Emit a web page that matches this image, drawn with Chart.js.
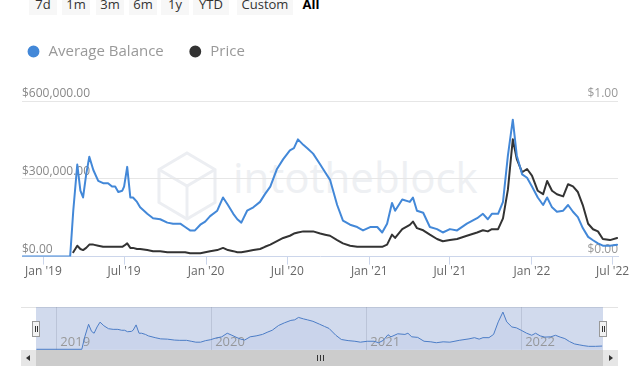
<!DOCTYPE html>
<html>
<head>
<meta charset="utf-8">
<script src="https://cdn.jsdelivr.net/npm/chart.js@4.4.1/dist/chart.umd.min.js"></script>
<style>
  body { margin: 0; width: 640px; height: 367px; overflow: hidden; background: #fff; position: relative; font-family: "Open Sans", sans-serif; }
  .btn { position: absolute; top: -8px; height: 23px; line-height: 24px; text-align: center; font-size: 13px; color: #333; background: #f7f7f7; }
  .btn.on { background: none; font-weight: bold; color: #000; }
  #mark { position: absolute; left: 0; top: 0; }
  #markText { position: absolute; left: 233px; top: 148px; font-size: 42px; color: #eef0f3; letter-spacing: 0px; }
  #main { position: absolute; left: 0; top: 20px; }
  #navBox { position: absolute; left: 21px; top: 307px; width: 597px; height: 43px; border-top: 1px solid #e3e3e3; box-sizing: border-box; }
  #nav { position: absolute; left: 21px; top: 307px; }
  .handle { position: absolute; top: 321px; width: 6px; height: 14px; background: #f2f2f2; border: 1px solid #999; }
  .handle i { position: absolute; top: 4px; width: 1px; height: 6px; background: #333; }
  #track { position: absolute; left: 21px; top: 350px; width: 597px; height: 16px; background: #f2f2f2; }
  #thumb { position: absolute; left: 36px; top: 350px; width: 567px; height: 16px; background: #cccccc; }
  .arrow { position: absolute; top: 350px; width: 15px; height: 16px; background: #e6e6e6; }
  .grip { position: absolute; top: 355px; width: 1px; height: 6px; background: #333; }
</style>
</head>
<body>
<div class="btn" style="left:29px;width:28px">7d</div>
<div class="btn" style="left:62px;width:28px">1m</div>
<div class="btn" style="left:96px;width:28px">3m</div>
<div class="btn" style="left:129px;width:28px">6m</div>
<div class="btn" style="left:161px;width:28px">1y</div>
<div class="btn" style="left:193px;width:36px">YTD</div>
<div class="btn" style="left:237px;width:56px">Custom</div>
<div class="btn on" style="left:300px;width:22px">All</div>

<svg id="mark" width="640" height="367">
  <g fill="none" stroke="#eceef2" stroke-width="3">
    <polygon points="187,153 215,169.5 215,202.5 187,219 159,202.5 159,169.5"/>
    <polyline points="159,169.5 187,186 215,169.5"/>
    <line x1="187" y1="186" x2="187" y2="219"/>
  </g>
</svg>
<div id="markText">intotheblock</div>

<canvas id="main" width="640" height="259"></canvas>

<div id="navBox"></div>
<canvas id="nav" width="597" height="43"></canvas>
<div class="handle" style="left:32px"><i style="left:2px"></i><i style="left:4px"></i></div>
<div class="handle" style="left:599px"><i style="left:2px"></i><i style="left:4px"></i></div>

<div id="track"></div>
<div id="thumb"></div>
<div class="arrow" style="left:21px"><div style="position:absolute;left:5px;top:5px;width:0;height:0;border-top:3px solid transparent;border-bottom:3px solid transparent;border-right:4px solid #333"></div></div>
<div class="arrow" style="left:603px"><div style="position:absolute;left:6px;top:5px;width:0;height:0;border-top:3px solid transparent;border-bottom:3px solid transparent;border-left:4px solid #333"></div></div>
<div class="grip" style="left:317px"></div>
<div class="grip" style="left:320px"></div>
<div class="grip" style="left:323px"></div>

<script>
// data
const dates = [
  '2018-11-15', '2019-03-02', '2019-03-09', '2019-03-18', '2019-03-25', '2019-03-31', '2019-04-07', '2019-04-14',
  '2019-04-23', '2019-05-04', '2019-05-15', '2019-05-26', '2019-06-04', '2019-06-11', '2019-06-18', '2019-06-27',
  '2019-07-01', '2019-07-08', '2019-07-15', '2019-07-21', '2019-07-30', '2019-08-06', '2019-08-22', '2019-09-04',
  '2019-09-20', '2019-10-06', '2019-10-19', '2019-11-04', '2019-11-15', '2019-11-26', '2019-12-07', '2019-12-19',
  '2019-12-30', '2020-01-10', '2020-01-26', '2020-02-08', '2020-02-19', '2020-03-02', '2020-03-11', '2020-03-20',
  '2020-04-02', '2020-04-16', '2020-05-01', '2020-05-12', '2020-05-24', '2020-06-08', '2020-06-22', '2020-07-07',
  '2020-07-16', '2020-07-25', '2020-08-06', '2020-08-15', '2020-08-28', '2020-09-13', '2020-09-24', '2020-10-05',
  '2020-10-21', '2020-11-03', '2020-11-19', '2020-12-05', '2020-12-18', '2021-01-03', '2021-01-19', '2021-01-30',
  '2021-02-10', '2021-02-21', '2021-02-28', '2021-03-16', '2021-04-02', '2021-04-09', '2021-04-18', '2021-05-02',
  '2021-05-17', '2021-06-02', '2021-06-15', '2021-07-01', '2021-07-17', '2021-08-08', '2021-08-31', '2021-09-13',
  '2021-09-24', '2021-10-03', '2021-10-17', '2021-10-28', '2021-11-08', '2021-11-19', '2021-11-28', '2021-12-10',
  '2021-12-21', '2022-01-01', '2022-01-14', '2022-01-26', '2022-02-04', '2022-02-15', '2022-02-26', '2022-03-12',
  '2022-03-23', '2022-04-03', '2022-04-14', '2022-04-25', '2022-05-07', '2022-05-18', '2022-05-29', '2022-06-09',
  '2022-06-25', '2022-07-11'
];

const balance = [
  0, 0, 177000, 355000, 254000, 228000, 317000, 385000,
  334000, 292000, 283000, 283000, 270000, 270000, 249000, 254000,
  270000, 346000, 228000, 228000, 211000, 190000, 165000, 148000,
  144000, 131000, 127000, 127000, 114000, 101000, 101000, 123000,
  135000, 156000, 177000, 228000, 199000, 165000, 144000, 131000,
  177000, 190000, 211000, 241000, 270000, 338000, 376000, 410000,
  418000, 452000, 431000, 418000, 397000, 355000, 325000, 296000,
  199000, 139000, 123000, 114000, 101000, 114000, 114000, 93000,
  127000, 207000, 177000, 220000, 211000, 228000, 177000, 169000,
  114000, 106000, 93000, 106000, 101000, 127000, 148000, 165000,
  144000, 165000, 165000, 211000, 389000, 528000, 389000, 317000,
  304000, 270000, 228000, 199000, 228000, 190000, 173000, 177000,
  199000, 173000, 152000, 110000, 76000, 63000, 51000, 42000,
  42000, 46000
];

const price = [
  null, null, 0.028, 0.070, 0.049, 0.042, 0.056, 0.077,
  0.077, 0.070, 0.063, 0.063, 0.063, 0.063, 0.063, 0.063,
  0.070, 0.085, 0.056, 0.056, 0.049, 0.049, 0.042, 0.035,
  0.035, 0.028, 0.028, 0.028, 0.028, 0.021, 0.021, 0.021,
  0.028, 0.035, 0.042, 0.056, 0.042, 0.035, 0.028, 0.028,
  0.035, 0.042, 0.049, 0.063, 0.077, 0.099, 0.120, 0.134,
  0.148, 0.155, 0.162, 0.162, 0.162, 0.148, 0.141, 0.134,
  0.106, 0.085, 0.070, 0.063, 0.063, 0.063, 0.063, 0.063,
  0.077, 0.141, 0.120, 0.176, 0.204, 0.225, 0.183, 0.169,
  0.141, 0.113, 0.099, 0.106, 0.113, 0.134, 0.155, 0.169,
  0.162, 0.176, 0.176, 0.246, 0.430, 0.754, 0.627, 0.542,
  0.563, 0.521, 0.423, 0.401, 0.486, 0.423, 0.401, 0.387,
  0.465, 0.451, 0.415, 0.331, 0.211, 0.176, 0.162, 0.113,
  0.106, 0.120
];

const tickDates = ['2019-01-01', '2019-07-01', '2020-01-01', '2020-07-01', '2021-01-01', '2021-07-01', '2022-01-01', '2022-07-01'];
const tickLabels = ["Jan '19", "Jul '19", "Jan '20", "Jul '20", "Jan '21", "Jul '21", "Jan '22", "Jul '22"];
const yearDates = ['2019-01-01', '2020-01-01', '2021-01-01', '2022-01-01'];
const yearLabels = ['2019', '2020', '2021', '2022'];

const xMin = Date.parse('2018-11-14');
const xMax = Date.parse('2022-07-13');

function toPoints(arr) {
  return dates.map((d, i) => ({ x: Date.parse(d), y: arr[i] }));
}

function money(v) {
  return '$' + v.toLocaleString('en-US', { minimumFractionDigits: 2, maximumFractionDigits: 2 });
}

const tickFont = { family: 'Open Sans', size: 12 };

// push the plot down below the legend
const legendGap = {
  id: 'legendGap',
  beforeInit(chart) {
    const fit = chart.legend.fit;
    chart.legend.fit = function () {
      fit.call(this);
      this.height += 32;
    };
  }
};

new Chart(document.getElementById('main'), {
  type: 'line',
  data: {
    datasets: [
      {
        label: 'Average Balance',
        data: toPoints(balance),
        yAxisID: 'y',
        borderColor: '#4388d8',
        backgroundColor: '#4388d8',
        borderWidth: 2,
        pointRadius: 0,
        borderJoinStyle: 'round',
        borderCapStyle: 'round'
      },
      {
        label: 'Price',
        data: toPoints(price),
        yAxisID: 'y1',
        borderColor: '#333333',
        backgroundColor: '#333333',
        borderWidth: 2,
        pointRadius: 0,
        borderJoinStyle: 'round',
        borderCapStyle: 'round'
      }
    ]
  },
  options: {
    responsive: false,
    animation: false,
    layout: { padding: { left: 2, right: 0, top: 0, bottom: 0 } },
    plugins: {
      legend: {
        align: 'start',
        labels: {
          usePointStyle: true,
          pointStyle: 'circle',
          boxWidth: 15,
          boxHeight: 7,
          padding: 24,
          color: '#999',
          font: { family: 'Open Sans', size: 15 }
        }
      },
      tooltip: { enabled: false }
    },
    scales: {
      x: {
        type: 'linear',
        min: xMin,
        max: xMax,
        afterBuildTicks: s => { s.ticks = tickDates.map(d => ({ value: Date.parse(d) })); },
        afterFit: s => { s.paddingLeft = 0; s.paddingRight = 0; },
        grid: { drawOnChartArea: false, tickLength: 8, tickColor: '#ccd6eb' },
        border: { color: '#ccd6eb' },
        ticks: {
          padding: 0,
          color: '#666',
          font: tickFont,
          maxRotation: 0,
          autoSkip: false,
          callback: (v, i) => tickLabels[i]
        }
      },
      y: {
        position: 'left',
        min: 0,
        max: 600000,
        grid: {
          color: c => (c.tick && c.tick.value === 0 ? 'rgba(0,0,0,0)' : '#e6e6e6'),
          tickLength: 20,
          tickColor: 'rgba(0,0,0,0)'
        },
        border: { display: false },
        ticks: {
          stepSize: 300000,
          mirror: true,
          padding: 0,
          labelOffset: -7,
          color: '#888',
          font: tickFont,
          callback: v => money(v)
        }
      },
      y1: {
        position: 'right',
        min: 0,
        max: 1,
        grid: { drawOnChartArea: false, tickLength: 22, tickColor: 'rgba(0,0,0,0)' },
        border: { display: false },
        ticks: {
          stepSize: 1,
          mirror: true,
          padding: 0,
          labelOffset: -7,
          color: '#999',
          font: tickFont,
          callback: v => money(v)
        }
      }
    }
  },
  plugins: [legendGap]
});

// navigator under the chart
const navShade = {
  id: 'navShade',
  beforeDraw(chart) {
    const { ctx, chartArea: a } = chart;
    ctx.save();
    ctx.fillStyle = 'rgba(102,133,194,0.3)';
    ctx.fillRect(a.left, a.top, a.width, a.height);
    ctx.restore();
  }
};

new Chart(document.getElementById('nav'), {
  type: 'line',
  data: {
    datasets: [{
      data: toPoints(balance),
      borderColor: '#4b7cc6',
      backgroundColor: 'rgba(75,124,198,0.05)',
      borderWidth: 1,
      pointRadius: 0,
      fill: 'origin'
    }]
  },
  options: {
    responsive: false,
    animation: false,
    layout: { padding: { left: 15, right: 15, top: 0, bottom: 0 } },
    plugins: { legend: { display: false }, tooltip: { enabled: false } },
    scales: {
      x: {
        type: 'linear',
        min: xMin,
        max: xMax,
        afterBuildTicks: s => { s.ticks = yearDates.map(d => ({ value: Date.parse(d) })); },
        afterFit: s => { s.height = 0; s.paddingLeft = 0; s.paddingRight = 0; },
        grid: { color: 'rgba(90,100,120,0.18)', drawTicks: false },
        border: { display: false },
        ticks: {
          mirror: true,
          align: 'start',
          labelOffset: 4,
          padding: 0,
          color: '#999',
          font: { family: 'Open Sans', size: 13 },
          maxRotation: 0,
          autoSkip: false,
          callback: (v, i) => yearLabels[i]
        }
      },
      y: { display: false, min: -10000, max: 600000 }
    }
  },
  plugins: [navShade]
});
</script>
</body>
</html>
